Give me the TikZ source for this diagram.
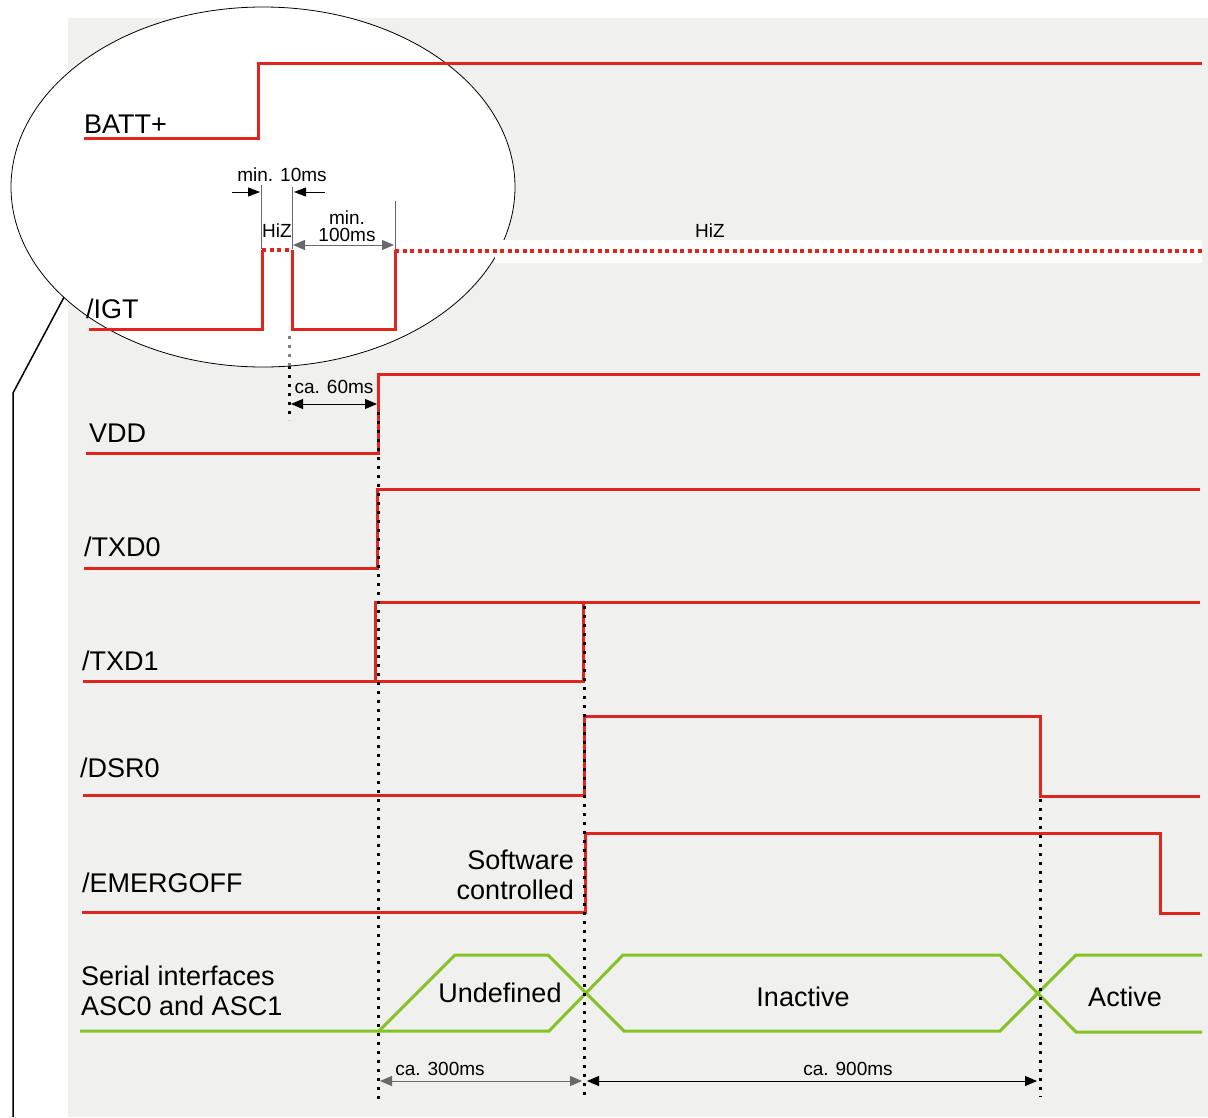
\documentclass[tikz,border=0pt]{standalone}
\usepackage{fontspec}
\setmainfont{Liberation Sans}
\usetikzlibrary{arrows.meta,shapes.geometric}

\definecolor{sigred}{RGB}{224,37,30}
\definecolor{busgreen}{RGB}{133,194,38}
\definecolor{bggray}{RGB}{240,240,238}
\definecolor{dimgray}{RGB}{105,105,105}

\tikzset{
  sig/.style={draw=sigred, line width=3pt},
  hiz/.style={draw=sigred, line width=3.5pt, dash pattern=on 4pt off 3.5pt},
  bus/.style={draw=busgreen, line width=3pt},
  guide/.style={draw=black, line width=3pt, dash pattern=on 3pt off 6pt},
  tick/.style={draw=dimgray, line width=0.9pt},
  dim/.style={line width=1pt, {Triangle[length=12pt,width=10pt]}-{Triangle[length=12pt,width=10pt]}},
  lbl/.style={anchor=base west, inner sep=0pt, font=\fontsize{27}{30}\selectfont},
  note/.style={inner sep=0pt, align=center, font=\fontsize{19}{17}\selectfont},
}

\begin{document}
\begin{tikzpicture}[x=1pt, y=-1pt]
  \useasboundingbox (0,0) rectangle (1208,1117);
  \fill[bggray] (68,18) rectangle (1208,1117);

  % zoomed start-up region
  \node[ellipse, draw, fill=white, line width=0.8pt, inner sep=0pt, outer sep=0pt,
        minimum width=504pt, minimum height=360pt] (zoom) at (263,187) {};
  \coordinate (bend) at (13,393);
  \coordinate (foot) at (13,1117);
  \draw[line width=1.5pt] (zoom.209) -- (bend) -- (foot);
  \fill[white] (495,240) rectangle (1202,263);

  % labels
  \node[lbl] (batt) at (84,133) {BATT+};
  \node[lbl] (igt) at (86,318) {/IGT};
  \node[lbl] (vdd) at (89,442) {VDD};
  \node[lbl] (txd0) at (84,556) {/TXD0};
  \node[lbl] (txd1) at (82,670) {/TXD1};
  \node[lbl] (dsr0) at (80,777) {/DSR0};
  \node[lbl] (emergoff) at (82,892) {/EMERGOFF};
  \node[lbl, align=left, anchor=north west, font=\fontsize{27}{30}\selectfont] (serial) at (81,966)
    {Serial interfaces\\ASC0 and ASC1};

  % signals
  \draw[sig] (84,138) -- (258,138) -- (258,63) -- (1202,63);
  \draw[sig] (89,329) -- (262,329) -- (262,250);
  \draw[hiz] (262,250) -- (292,250);
  \draw[sig] (292,250) -- (292,329) -- (395,329) -- (395,250);
  \draw[hiz] (395,251) -- (1202,251);
  \draw[sig] (86,453) -- (378,453) -- (378,374) -- (1200,374);
  \draw[sig] (84,568) -- (377,568) -- (377,489) -- (1200,489);
  \draw[sig] (83,681) -- (583,681) -- (583,602);
  \draw[sig] (375,681) -- (375,602) -- (1200,602);
  \draw[sig] (83,795) -- (584,795) -- (584,716) -- (1040,716) -- (1040,796) -- (1200,796);
  \draw[sig] (82,912) -- (585,912) -- (585,833) -- (1160,833) -- (1160,913) -- (1200,913);
  \draw[bus] (80,1031) -- (379,1031) -- (455,955) -- (548,955) -- (624,1031)
    -- (1000,1031) -- (1076,955) -- (1202,955);
  \draw[bus] (379,1031) -- (549,1031) -- (623,955) -- (1000,955) -- (1076,1032) -- (1202,1032);

  % guides
  \draw[guide, draw=gray] (289,336) -- (289,366);
  \draw[guide] (289,366) -- (289,420);
  \draw[guide] (378,412) -- (378,1100);
  \draw[guide] (584,606) -- (584,1095);
  \draw[guide] (1040,799) -- (1040,1097);

  % timing marks
  \draw[tick] (261,185) -- (261,249);
  \draw[tick] (292,187) -- (292,249);
  \draw[tick] (395,201) -- (395,249);
  \draw[line width=1pt, -{Triangle[length=12pt,width=9pt]}] (232,192) -- (260,192);
  \draw[line width=1pt, -{Triangle[length=12pt,width=9pt]}] (325,192) -- (294,192);
  \draw[dim, draw=dimgray, fill=black] (293,245) -- (394,245);
  \draw[dim] (291,404) -- (377,404);
  \draw[dim, draw=dimgray, fill=black] (380,1081) -- (582,1081);
  \draw[dim] (587,1081) -- (1037,1081);

  \node[note] (t10) at (282,175) {min. 10ms};
  \node[note] (hizl) at (277,231) {HiZ};
  \node[note] (t100) at (347,226) {min.\\100ms};
  \node[note] (hizr) at (710,231) {HiZ};
  \node[note] (t60) at (334,387) {ca. 60ms};
  \node[note] (t300) at (440,1069) {ca. 300ms};
  \node[note] (t900) at (848,1069) {ca. 900ms};
  \node[inner sep=0pt, align=right, anchor=east, font=\fontsize{27}{30}\selectfont] (sw) at (574,875)
    {Software\\controlled};
  \node[inner sep=0pt, font=\fontsize{27}{30}\selectfont] (undef) at (500,993) {Undefined};
  \node[inner sep=0pt, font=\fontsize{27}{30}\selectfont] (inact) at (803,997) {Inactive};
  \node[inner sep=0pt, font=\fontsize{27}{30}\selectfont] (act) at (1125,997) {Active};
\end{tikzpicture}
\end{document}
